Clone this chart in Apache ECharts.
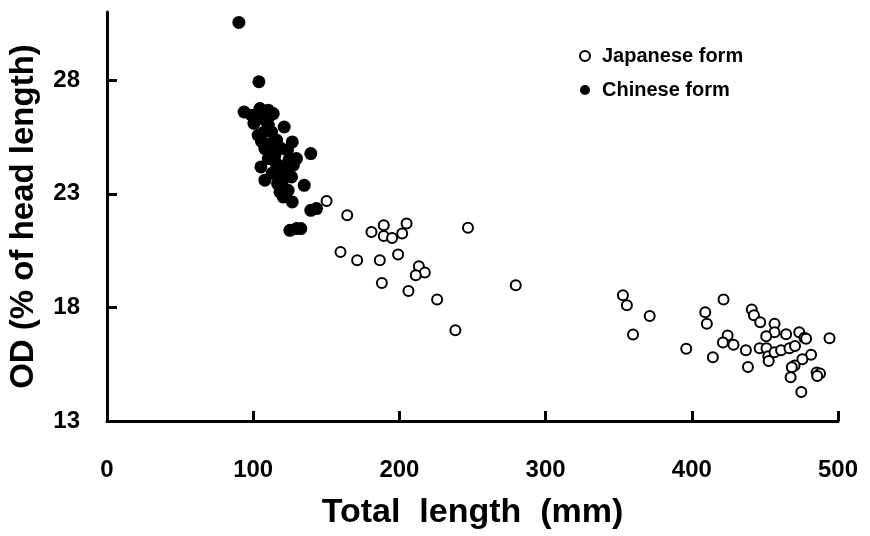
<!DOCTYPE html>
<html>
<head>
<meta charset="utf-8">
<script src="https://cdn.jsdelivr.net/npm/echarts@6/dist/echarts.min.js"></script>
<style>html,body{margin:0;padding:0;background:#fff}#c{width:870px;height:536px}</style>
</head>
<body>
<div id="c"></div>
<script>
// Data: [Total length (mm), OD (% of head length)]
const seriesNames = ['Japanese form', 'Chinese form'];
const xTicks = [0, 100, 200, 300, 400, 500];
const yTicks = [13, 18, 23, 28];

const japaneseForm = [
  [150.2,22.68],[164.3,22.05],[180.9,21.32],[189.3,21.61],[189.3,21.14],[195,21.05],[201.9,21.25],[204.9,21.69],
  [246.9,21.51],[159.7,20.44],[171.1,20.07],[186.6,20.07],[199.1,20.33],[213.3,19.81],[217.4,19.53],[211.2,19.41],
  [188,19.07],[206.2,18.72],[225.8,18.35],[238.3,16.99],[279.6,18.97],
  [352.9,18.53],[355.6,18.09],[371.2,17.62],[359.8,16.81],[396.2,16.18],[409.2,17.79],[410.3,17.28],[421.7,18.35],
  [414.4,15.81],[424.5,16.76],[421.3,16.45],[428.5,16.36],[437,16.11],[438.4,15.38],[441,17.91],[442.5,17.65],
  [446.8,17.35],[456.6,17.28],[456.6,16.91],[450.9,16.73],[446.4,16.2],[451.1,16.2],[452.3,15.85],[452.6,15.64],
  [456.6,16.03],[461.1,16.11],[464.5,16.82],[466.8,16.2],[470.6,16.3],[473.5,16.91],[477,16.66],[478.2,16.62],
  [481.6,15.92],[475.6,15.72],[470.3,15.44],[468.4,15.37],[467.6,14.93],[474.9,14.28],[485.4,15.13],[487.7,15.09],
  [485.8,14.98],[494.2,16.64]
];

const chineseForm = [
  [90.2,30.54],[103.9,27.93],[93.8,26.6],[98.9,26.46],[104.6,26.75],[110.3,26.68],[113.7,26.53],[106.5,26.3],
  [100.5,26.1],[110.3,26.02],[121.2,25.94],[103.4,25.58],[112.6,25.72],[116,25.36],[126.7,25.28],[108,24.99],
  [123.4,24.92],[139.4,24.77],[114.8,24.7],[129.6,24.55],[110.3,24.55],[105.3,24.18],[117.1,24.26],[127.4,24.26],
  [118.3,23.89],[108,23.6],[126.2,23.74],[116.7,23.45],[134.9,23.37],[118.3,23.08],[123.9,23.15],[120.5,22.86],
  [126.7,22.64],[139.4,22.27],[143.3,22.35],[125.1,21.39],[129.6,21.47],[132.6,21.47],[105.7,25.3],[112,25.2],
  [119,25.0],[115,24.4],[122,24.1],[113,23.9],[111,26.4],[107,25.7],[120,23.6],[124.5,24.5]
];

const chart = echarts.init(document.getElementById('c'), null, {renderer: 'canvas'});
const tickFont = {fontFamily: 'Liberation Sans', fontWeight: 'bold', fontSize: 24, color: '#000'};
chart.setOption({
  animation: false,
  backgroundColor: '#fff',
  grid: {left: 107, right: 32, top: 12, bottom: 115, containLabel: false, outerBoundsMode: 'none'},
  legend: {
    orient: 'vertical', left: 574, top: 41, itemWidth: 10, itemHeight: 10, itemGap: 14,
    textStyle: {fontFamily: 'Liberation Sans', fontWeight: 'bold', fontSize: 20, color: '#000', padding: [0, 0, 0, 7]},
    data: [
      {name: seriesNames[0], icon: 'circle', itemStyle: {color: '#fff', borderColor: '#000', borderWidth: 2}},
      {name: seriesNames[1], icon: 'circle', itemStyle: {color: '#000', borderWidth: 0}}
    ]
  },
  xAxis: {
    type: 'value', min: 0, max: 500, interval: 100,
    name: 'Total  length  (mm)', nameLocation: 'middle', nameGap: 75,
    nameTextStyle: {fontFamily: 'Liberation Sans', fontWeight: 'bold', fontSize: 34, color: '#000', verticalAlign: 'top'},
    axisLine: {show: true, lineStyle: {color: '#000', width: 3}},
    axisTick: {show: true, inside: true, length: 10, lineStyle: {color: '#000', width: 3}, customValues: [100,200,300,400,500]},
    axisLabel: Object.assign({margin: 37, customValues: xTicks}, tickFont),
    splitLine: {show: false}
  },
  yAxis: {
    type: 'value', min: 13, max: 31,
    name: 'OD (% of head length)', nameLocation: 'middle', nameGap: 67, nameRotate: 90,
    nameTextStyle: {fontFamily: 'Liberation Sans', fontWeight: 'bold', fontSize: 33, color: '#000'},
    axisLine: {show: true, lineStyle: {color: '#000', width: 3}},
    axisTick: {show: true, inside: true, length: 10, lineStyle: {color: '#000', width: 3}, customValues: [18,23,28]},
    axisLabel: Object.assign({margin: 27, customValues: yTicks}, tickFont),
    splitLine: {show: false}
  },
  series: [
    {
      name: seriesNames[0], type: 'scatter', data: japaneseForm, symbol: 'circle', symbolSize: 10,
      itemStyle: {color: '#fff', borderColor: '#000', borderWidth: 2, opacity: 1}, z: 2
    },
    {
      name: seriesNames[1], type: 'scatter', data: chineseForm, symbol: 'circle', symbolSize: 13,
      itemStyle: {color: '#000', borderWidth: 0, opacity: 1}, z: 3
    }
  ]
});
</script>
</body>
</html>
